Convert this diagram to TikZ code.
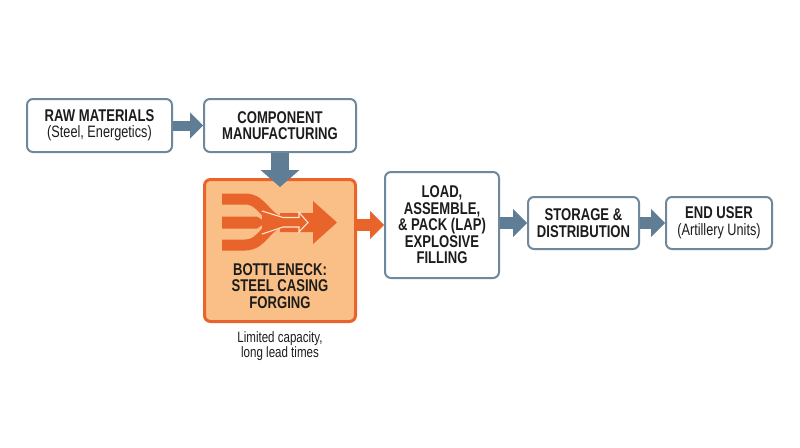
\documentclass[tikz,border=0pt]{standalone}
\usepackage{fontspec}
\setmainfont{Liberation Sans}[FakeStretch=0.77]
\usepackage{tikz}
\usetikzlibrary{arrows.meta,positioning}
\definecolor{slate}{HTML}{5F7E95}
\definecolor{frame}{HTML}{6F889B}
\definecolor{rust}{HTML}{E8642B}
\definecolor{peach}{HTML}{F9BF86}
\definecolor{ink}{HTML}{1C1C1C}
\newcommand\subtxt[1]{{\fontsize{16.5}{16.5}\selectfont\mdseries #1}}

\begin{document}
\begin{tikzpicture}[x=1pt,y=-1pt,
    box/.style={draw=frame,line width=2pt,rounded corners=6pt,fill=white,inner sep=0pt,
      align=center,text=ink,font=\fontsize{17}{16.5}\selectfont\bfseries},
    hot/.style={box,draw=rust,line width=3pt,fill=peach},
    flow/.style={color=slate,line width=12pt,-{Triangle[length=14pt,width=28pt,line width=0pt]}}]
    \useasboundingbox (0,0) rectangle (800,447);

    \node[box,minimum width=145pt,minimum height=53pt] (raw) at (99.5,125.5)
      {RAW MATERIALS\\\subtxt{(Steel, Energetics)}};
    \node[box,minimum width=152pt,minimum height=53pt] (comp) at (280,125.5)
      {COMPONENT\\MANUFACTURING};
    \node[hot,minimum width=151pt,minimum height=142pt] (neck) at (280,250.5) {};
    \node[box,minimum width=114pt,minimum height=106pt] (lap) at (442,225)
      {LOAD,\\ASSEMBLE,\\\& PACK (LAP)\\EXPLOSIVE\\FILLING};
    \node[box,minimum width=111pt,minimum height=52pt] (store) at (583.5,223)
      {STORAGE \&\\DISTRIBUTION};
    \node[box,minimum width=106pt,minimum height=52pt] (user) at (719,223)
      {END USER\\\subtxt{(Artillery Units)}};

    \node[align=center,text=ink,font=\fontsize{17}{16.5}\selectfont\bfseries] (necktxt) at (280,286)
      {BOTTLENECK:\\STEEL CASING\\FORGING};
    \node[below=8pt of neck,inner sep=0pt,align=center,text=ink,
      font=\fontsize{15}{15}\selectfont] (note) {Limited capacity,\\long lead times};

    % merging flow icon
    \fill[rust] (280,213) -- (313,213) -- (313,201) -- (337,222.5) -- (313,244) -- (313,232)
      -- (280,232) -- cycle;
    \draw[rust,line width=11pt] (222,199) -- (245,199) .. controls (264,199) and (266,222) .. (285,222);
    \draw[rust,line width=11pt] (222,245) -- (245,245) .. controls (264,245) and (266,222) .. (285,222);
    \filldraw[fill=rust,draw=peach!40,line width=1.1pt] (262,211) -- (283,217.5) -- (299,217.5)
      -- (299,212.5) -- (308,222.5) -- (299,232) -- (299,227) -- (283,227) -- (262,234);
    \fill[rust] (222,216.5) -- (257,216.5) -- (266,222.5) -- (257,228.5) -- (222,228.5) -- cycle;

    \path[flow]
      (raw) edge [line width=10pt,-{Triangle[length=13pt,width=26pt,line width=0pt]}] (comp)
      (comp) edge [line width=18pt,-{Triangle[length=17pt,width=39pt,line width=0pt]},shorten >=-9pt] (neck)
      (neck.east |- lap.west) edge [color=rust] (lap.west)
      (lap.east |- store.west) edge (store.west)
      (store) edge (user);
\end{tikzpicture}
\end{document}
